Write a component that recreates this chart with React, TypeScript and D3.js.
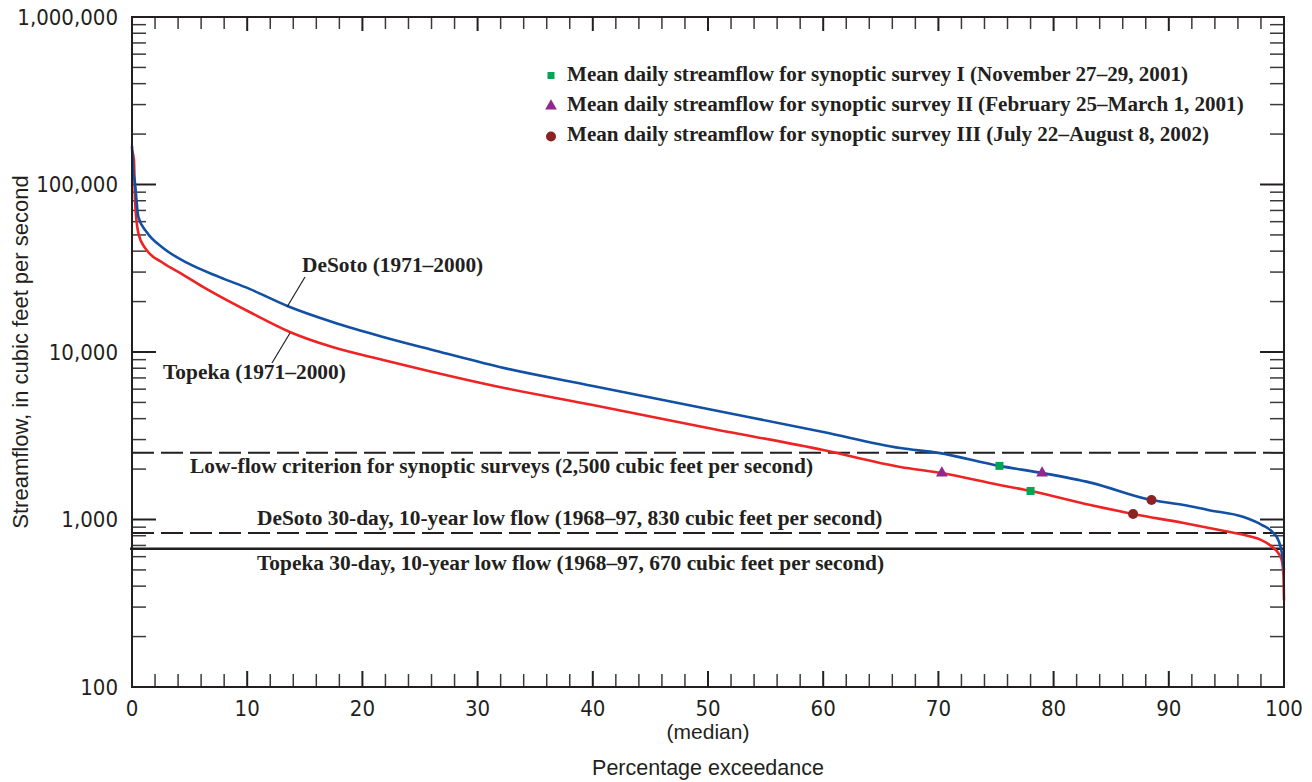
import React from "react";
import * as d3 from "d3";

// ---- Data ----
const desotoPct = [0, 0.1, 0.26, 0.55, 1.27, 2.7, 4.8, 7.6, 10.2, 13.7, 17.4, 21.8, 26.1, 31.9, 40, 50, 60, 66.7, 70, 75.3, 79, 83.2, 88.5, 91.3, 93.4, 96.5, 98.1, 99, 99.5, 99.8, 100];
const desotoFlow = [170000, 125000, 102000, 64000, 52000, 41800, 34000, 28000, 23800, 18560, 15100, 12300, 10280, 8140, 6270, 4570, 3330, 2670, 2500, 2090, 1895, 1660, 1306, 1220, 1140, 1035, 927, 842, 755, 640, 500];

const topekaPct = [0, 0.17, 0.26, 0.55, 1.13, 2.7, 4.2, 6.2, 10.2, 13.7, 17.4, 21.8, 26.1, 31.9, 40, 50, 60, 66.7, 70.3, 75.3, 78, 83.2, 86.9, 91.3, 94.4, 96.9, 98, 99, 99.5, 99.8, 99.95, 100];
const topekaFlow = [160000, 140000, 80800, 51300, 41800, 34000, 29600, 24400, 17330, 13170, 10700, 8960, 7600, 6180, 4830, 3520, 2600, 2060, 1895, 1607, 1480, 1220, 1078, 953, 865, 797, 755, 685, 631, 573, 467, 330];

const survey1Pct = [75.3, 78];
const survey1Flow = [2090, 1480];
const survey2Pct = [70.3, 79];
const survey2Flow = [1895, 1895];
const survey3Pct = [88.5, 86.9];
const survey3Flow = [1306, 1078];

const lowFlowCriterion = 2500;
const desotoLowFlow = 830;
const topekaLowFlow = 670;

const yMajorTicks = [100, 1000, 10000, 100000, 1000000];
const yTickLabels = ["100", "1,000", "10,000", "100,000", "1,000,000"];
const xMajorTicks = [0, 10, 20, 30, 40, 50, 60, 70, 80, 90, 100];
const xTickLabels = ["0", "10", "20", "30", "40", "50", "60", "70", "80", "90", "100"];

const legendLabels = [
  "Mean daily streamflow for synoptic survey I (November 27\u201329, 2001)",
  "Mean daily streamflow for synoptic survey II (February 25\u2013March 1, 2001)",
  "Mean daily streamflow for synoptic survey III (July 22\u2013August 8, 2002)",
];

// ---- Styling ----
const W = 1312;
const H = 782;
const L = 132, R = 1284, T = 17, B = 687;
const INK = "#231f20";
const BLUE = "#1150a4";
const RED = "#ee2324";
const GREEN = "#00a651";
const PURPLE = "#92278f";
const MAROON = "#8a2424";
const SANS = "'Liberation Sans', Arial, sans-serif";
const NARROW = "'Liberation Sans Narrow', 'Arial Narrow', 'DejaVu Sans Condensed', sans-serif";
const SERIF = "'Liberation Serif', 'Times New Roman', serif";

export default function App() {
  const x = d3.scaleLinear().domain([0, 100]).range([L, R]);
  const y = d3.scaleLog().domain([100, 1000000]).range([B, T]);

  const line = d3
    .line<[number, number]>()
    .x((d) => x(d[0]))
    .y((d) => y(d[1]))
    .curve(d3.curveMonotoneX);

  const desoto: [number, number][] = desotoPct.map((p, i) => [p, desotoFlow[i]]);
  const topeka: [number, number][] = topekaPct.map((p, i) => [p, topekaFlow[i]]);

  const yMinor: number[] = [];
  for (let dec = 100; dec < 1000000; dec *= 10) {
    for (let k = 2; k <= 9; k++) yMinor.push(dec * k);
  }
  const xMinor: number[] = d3.range(0, 101, 2).filter((v) => v % 10 !== 0);

  const tri = d3.symbol().type(d3.symbolTriangle).size(60)();

  return (
    <svg
      width={W}
      height={H}
      style={{ position: "absolute", left: 0, top: 0, display: "block", background: "#fff" }}
    >
      {/* reference lines */}
      <line x1={L} x2={R} y1={y(lowFlowCriterion)} y2={y(lowFlowCriterion)} stroke={INK} strokeWidth={2} strokeDasharray="22 7" />
      <line x1={L} x2={R} y1={y(desotoLowFlow)} y2={y(desotoLowFlow)} stroke={INK} strokeWidth={2} strokeDasharray="22 7" />
      <line x1={L - 2} x2={R} y1={y(topekaLowFlow)} y2={y(topekaLowFlow)} stroke={INK} strokeWidth={2.5} />

      {/* ticks */}
      <g stroke="#3a3a3a" strokeWidth={1.5}>
        {yMinor.map((v) => (
          <g key={"ym" + v}>
            <line x1={L} x2={L + 14} y1={y(v)} y2={y(v)} />
            <line x1={R} x2={R - 14} y1={y(v)} y2={y(v)} />
          </g>
        ))}
        {yMajorTicks.map((v) => (
          <g key={"yM" + v}>
            <line x1={L} x2={L + 24} y1={y(v)} y2={y(v)} strokeWidth={2} stroke={INK} />
            <line x1={R} x2={R - 24} y1={y(v)} y2={y(v)} strokeWidth={2} stroke={INK} />
          </g>
        ))}
        {xMinor.map((v) => (
          <g key={"xm" + v}>
            <line x1={x(v)} x2={x(v)} y1={B} y2={B - 13} />
            <line x1={x(v)} x2={x(v)} y1={T} y2={T + 12} />
          </g>
        ))}
        {xMajorTicks.map((v) => (
          <g key={"xM" + v}>
            <line x1={x(v)} x2={x(v)} y1={B} y2={B - 16} strokeWidth={2} stroke={INK} />
            <line x1={x(v)} x2={x(v)} y1={T} y2={T + 14} strokeWidth={2} stroke={INK} />
          </g>
        ))}
      </g>

      {/* curves */}
      <path d={line(topeka) || ""} fill="none" stroke={RED} strokeWidth={2.6} strokeLinejoin="round" />
      <path d={line(desoto) || ""} fill="none" stroke={BLUE} strokeWidth={2.6} strokeLinejoin="round" />

      {/* frame */}
      <rect x={L} y={T} width={R - L} height={B - T} fill="none" stroke={INK} strokeWidth={2} />

      {/* survey markers */}
      {survey1Pct.map((p, i) => (
        <rect key={"s1" + i} x={x(p) - 4} y={y(survey1Flow[i]) - 4} width={8} height={8} fill={GREEN} />
      ))}
      {survey2Pct.map((p, i) => (
        <path key={"s2" + i} d={tri || ""} transform={`translate(${x(p)},${y(survey2Flow[i])})`} fill={PURPLE} />
      ))}
      {survey3Pct.map((p, i) => (
        <circle key={"s3" + i} cx={x(p)} cy={y(survey3Flow[i])} r={5} fill={MAROON} />
      ))}

      {/* y tick labels */}
      {yMajorTicks.map((v, i) => (
        <text key={"yl" + v} x={118} y={y(v)} dy="0.36em" textAnchor="end" fontFamily={NARROW} fontSize={22} fill={INK}>
          {yTickLabels[i]}
        </text>
      ))}
      {/* x tick labels */}
      {xMajorTicks.map((v, i) => (
        <text key={"xl" + v} x={x(v)} y={716} textAnchor="middle" fontFamily={NARROW} fontSize={22} fill={INK}>
          {xTickLabels[i]}
        </text>
      ))}
      <text x={x(50)} y={739} textAnchor="middle" fontFamily={SANS} fontSize={21} fill={INK}>(median)</text>
      <text x={x(50)} y={775} textAnchor="middle" fontFamily={SANS} fontSize={21.5} fill={INK}>Percentage exceedance</text>
      <text transform={`translate(28,${352}) rotate(-90)`} textAnchor="middle" fontFamily={SANS} fontSize={22} fill={INK}>
        Streamflow, in cubic feet per second
      </text>

      {/* legend */}
      <rect x={551 - 3.5} y={75.5 - 3.5} width={7} height={7} fill={GREEN} />
      <path d={tri || ""} transform="translate(551,106)" fill={PURPLE} />
      <circle cx={551} cy={136.5} r={5} fill={MAROON} />
      {legendLabels.map((t, i) => (
        <text key={"lg" + i} x={567} y={81 + i * 30} fontFamily={SERIF} fontWeight="bold" fontSize={21.1} fill={INK}>
          {t}
        </text>
      ))}

      {/* annotations */}
      <g fontFamily={SERIF} fontWeight="bold" fontSize={21.4} fill={INK}>
        <text x={302} y={272}>DeSoto (1971{"\u2013"}2000)</text>
        <text x={163} y={379}>Topeka (1971{"\u2013"}2000)</text>
        <text x={190} y={473}>Low-flow criterion for synoptic surveys (2,500 cubic feet per second)</text>
        <text x={257} y={525}>DeSoto 30-day, 10-year low flow (1968{"\u2013"}97, 830 cubic feet per second)</text>
        <text x={257} y={570}>Topeka 30-day, 10-year low flow (1968{"\u2013"}97, 670 cubic feet per second)</text>
      </g>
      <line x1={305} y1={277} x2={287} y2={307} stroke={INK} strokeWidth={1.2} />
      <line x1={290} y1={333} x2={272} y2={363} stroke={INK} strokeWidth={1.2} />
    </svg>
  );
}
